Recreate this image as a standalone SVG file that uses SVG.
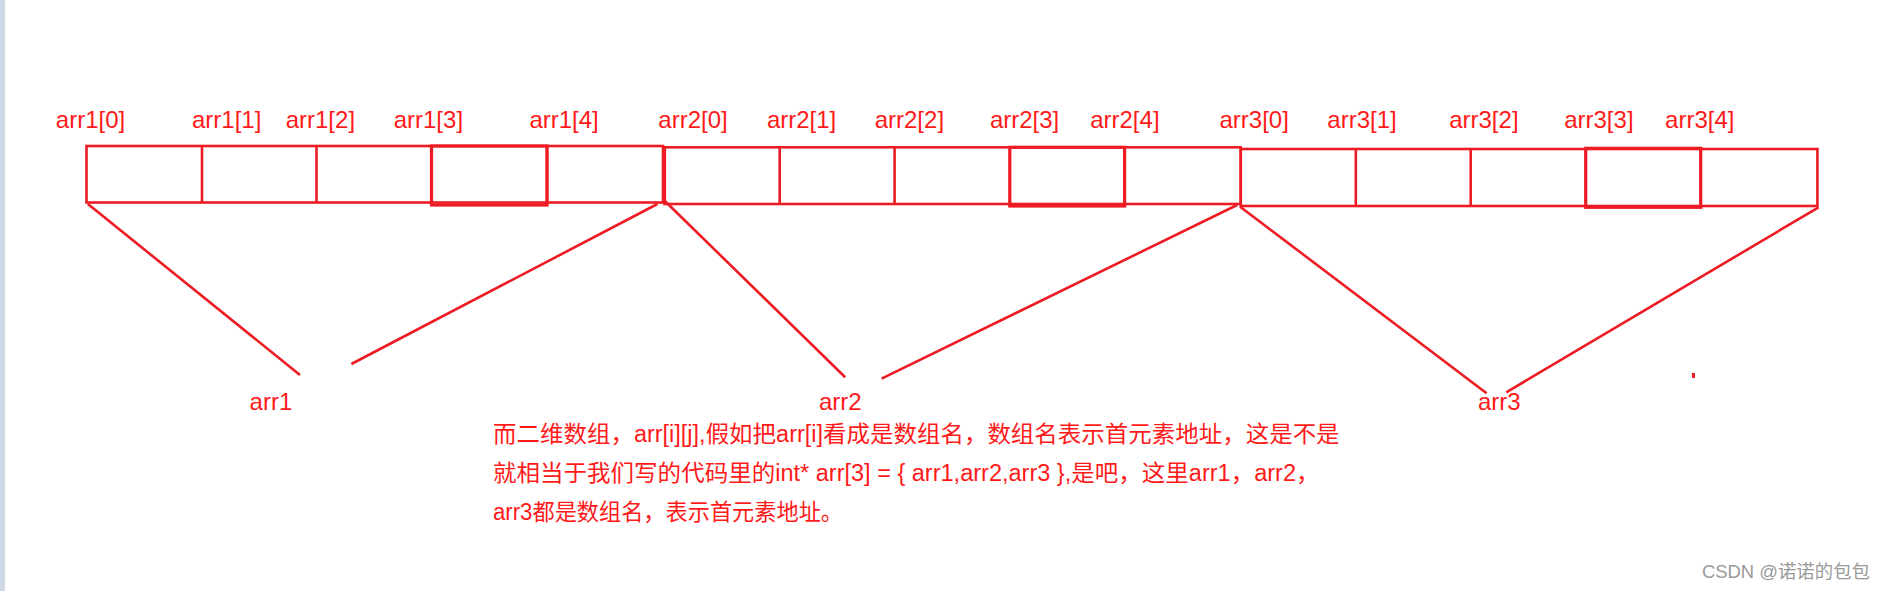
<svg xmlns="http://www.w3.org/2000/svg" width="1888" height="591" viewBox="0 0 1888 591">
<style>
.cell{fill:none;stroke:#ed1c24;stroke-width:2.6}
.cell3{fill:none;stroke:#ed1c24;stroke-width:3.2}
.con{fill:none;stroke:#ed1c24;stroke-width:2.6;stroke-linecap:butt}
.lbl{font-family:"Liberation Sans","Noto Sans CJK SC",sans-serif;font-size:24px;fill:#ff1a1a}
.para{font-family:"Liberation Sans","Noto Sans CJK SC",sans-serif;font-size:23px;fill:#ff1a1a}
.wm{font-family:"Liberation Sans","Noto Sans CJK SC",sans-serif;font-size:18px;fill:#9a9a9a}
</style>
<rect x="0" y="0" width="1888" height="591" fill="#ffffff"/>
<rect x="0" y="0" width="5" height="591" fill="#cfd8e7"/>

<g id="arr1">
  <rect class="cell" x="86.5" y="146" width="576.5" height="56.5"/>
  <line class="cell" x1="202" y1="146" x2="202" y2="202.5"/>
  <line class="cell" x1="316.5" y1="146" x2="316.5" y2="202.5"/>
  <line class="cell" x1="547" y1="146" x2="547" y2="202.5"/>
  <rect class="cell3" x="431.5" y="146" width="115.5" height="59"/>
  <text class="lbl" x="55.8" y="128">arr1[0]</text>
  <text class="lbl" x="192" y="128">arr1[1]</text>
  <text class="lbl" x="285.7" y="128">arr1[2]</text>
  <text class="lbl" x="393.7" y="128">arr1[3]</text>
  <text class="lbl" x="529.4" y="128">arr1[4]</text>
</g>

<g id="arr2">
  <rect class="cell" x="664.5" y="147.3" width="576.2" height="56.7"/>
  <line class="cell3" x1="664.5" y1="147.3" x2="664.5" y2="204"/>
  <line class="cell" x1="779.7" y1="147.3" x2="779.7" y2="204"/>
  <line class="cell" x1="894.6" y1="147.3" x2="894.6" y2="204"/>
  <line class="cell" x1="1124.6" y1="147.3" x2="1124.6" y2="204.5"/>
  <rect class="cell3" x="1009.8" y="147.3" width="114.8" height="58.7"/>
  <text class="lbl" x="658.3" y="128">arr2[0]</text>
  <text class="lbl" x="766.9" y="128">arr2[1]</text>
  <text class="lbl" x="874.7" y="128">arr2[2]</text>
  <text class="lbl" x="989.9" y="128">arr2[3]</text>
  <text class="lbl" x="1090.2" y="128">arr2[4]</text>
</g>

<g id="arr3">
  <rect class="cell" x="1240.8" y="149" width="576.6" height="57"/>
  <line class="cell" x1="1355.8" y1="149" x2="1355.8" y2="206"/>
  <line class="cell" x1="1470.7" y1="149" x2="1470.7" y2="206"/>
  <line class="cell" x1="1700.7" y1="149" x2="1700.7" y2="206.5"/>
  <rect class="cell3" x="1585.7" y="148.3" width="115" height="59"/>
  <text class="lbl" x="1219.5" y="128">arr3[0]</text>
  <text class="lbl" x="1327.3" y="128">arr3[1]</text>
  <text class="lbl" x="1449.2" y="128">arr3[2]</text>
  <text class="lbl" x="1564.2" y="128">arr3[3]</text>
  <text class="lbl" x="1665.1" y="128">arr3[4]</text>
</g>

<g id="connectors">
  <line class="con" x1="87.9" y1="204" x2="300" y2="375"/>
  <line class="con" x1="351.4" y1="364" x2="657.4" y2="204"/>
  <line class="con" x1="664.6" y1="200.7" x2="845.2" y2="377.3"/>
  <line class="con" x1="881.6" y1="378.7" x2="1237.1" y2="205"/>
  <line class="con" x1="1240.1" y1="206.7" x2="1486.6" y2="393.3"/>
  <line class="con" x1="1506.3" y1="392.3" x2="1818.6" y2="207.3"/>
</g>
<rect x="1692" y="373" width="3" height="5" fill="#ed1c24"/>

<g id="name-arr1"><text class="lbl" x="249.6" y="410">arr1</text></g>
<g id="name-arr2"><text class="lbl" x="819" y="410">arr2</text></g>
<g id="name-arr3"><text class="lbl" x="1478" y="410">arr3</text></g>

<g id="note">
  <text class="para" x="493" y="442" textLength="846.6" lengthAdjust="spacingAndGlyphs">而二维数组，arr[i][j],假如把arr[i]看成是数组名，数组名表示首元素地址，这是不是</text>
  <text class="para" x="493" y="481" textLength="826.5" lengthAdjust="spacingAndGlyphs">就相当于我们写的代码里的int* arr[3] = { arr1,arr2,arr3 },是吧，这里arr1，arr2，</text>
  <text class="para" x="493" y="520" textLength="350" lengthAdjust="spacingAndGlyphs">arr3都是数组名，表示首元素地址。</text>
</g>

<g id="watermark">
  <text class="wm" x="1702" y="578" textLength="168" lengthAdjust="spacingAndGlyphs">CSDN @诺诺的包包</text>
</g>
</svg>
